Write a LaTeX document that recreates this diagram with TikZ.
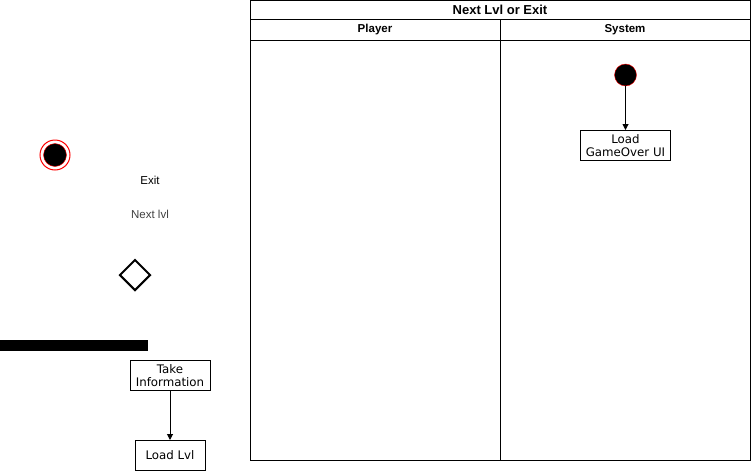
\documentclass[tikz,border=0pt]{standalone}
\usepackage{fontspec}
\setmainfont{Liberation Sans}
\newfontfamily\boxfont{DejaVu Sans}
\usetikzlibrary{positioning}
\usetikzlibrary{arrows.meta,shapes.geometric}

\begin{document}
\begin{tikzpicture}
            [x=1pt, y=-1pt,
            border/.style={line width=1pt},
            header/.style={font=\fontsize{11.5}{13}\selectfont\bfseries},
            label/.style={font=\fontsize{11.5}{13}\selectfont},
            action/.style={draw, line width=1pt, align=center, inner sep=1pt,
                font=\boxfont\fontsize{11.8}{13}\selectfont},
            initial/.style={circle, fill=black, draw=red, inner sep=0pt},
            flow/.style={line width=1pt, -{Triangle[length=6pt, width=6pt]}},
            ]
            \useasboundingbox (0,0) rectangle (751,471);

            \begin{scope}[shift={(0,0)}]
                \node[circle, draw=red, line width=1pt, minimum size=30pt, inner sep=0pt] (finalRing) at (55,155) {};
                \node[initial, minimum size=23pt] (finalDot) at (finalRing) {};
                \node[label] (exit) at (150,180) {Exit};
                \node[label, text=black!75] (nextlvl) at (150,214) {Next lvl};
                \node[diamond, draw, line width=2pt, minimum size=31pt, inner sep=0pt] (choice) at (135,275) {};
                \fill (0,340) rectangle (148,350.5);
                \node[action, minimum width=80pt, minimum height=30pt] (takeInfo) at (170,375.5) {Take\\Information};
                \node[action, minimum width=70pt, minimum height=30pt] (loadLvl) at (170,455.5) {Load Lvl};
                \draw[flow] (takeInfo) -- (loadLvl);
            \end{scope}

            \begin{scope}[shift={(250,0)}]
                \draw[border] (0,0) rectangle (500,460);
                \draw[border] (0,19) -- (500,19);
                \draw[border] (0,40) -- (500,40);
                \draw[border] (250,19) -- (250,460);
                \node[header, font=\fontsize{13}{15}\selectfont\bfseries] (pool) at (250,10) {Next Lvl or Exit};
                \node[header] (player) at (125,30) {Player};
                \node[header] (system) at (375,30) {System};

                \node[initial, minimum size=22pt] (sysStart) at (375.5,75) {};
                \node[action, minimum width=90pt, minimum height=30pt] (gameOver) at (375.5,145.5) {Load\\GameOver UI};
                \draw[flow] (sysStart) -- (gameOver);
            \end{scope}
        \end{tikzpicture}
\end{document}
